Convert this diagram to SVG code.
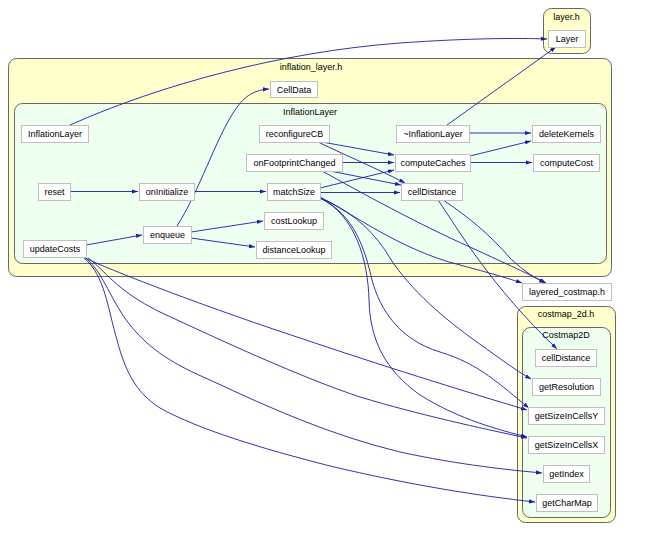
<svg xmlns="http://www.w3.org/2000/svg" width="650" height="557" viewBox="0 0 650 557">
<defs>
<marker id="arr" viewBox="0 0 10 10" refX="10" refY="5" markerWidth="6" markerHeight="6" markerUnits="userSpaceOnUse" orient="auto">
<path d="M0,1.5 L10,5 L0,8.5 z" fill="#1c1ca8"/>
</marker>
<style>
.file{fill:#ffffcc;stroke:#666666;stroke-width:1}
.cls{fill:#efffef;stroke:#666666;stroke-width:1}
.node rect{fill:#ffffff;stroke:#bfbfbf;stroke-width:1}
text{font-family:"Liberation Sans",Arial,sans-serif;font-size:9px;fill:#000000;text-anchor:middle}
.edges path{fill:none;stroke:#1c1ca8;stroke-width:0.9;marker-end:url(#arr)}
</style>
</defs>
<rect width="650" height="557" fill="#ffffff"/>

<g id="clusters">
<g id="cluster-layer-h"><rect class="file" x="543.5" y="8.5" width="47" height="45" rx="8"/><text x="566.5" y="20">layer.h</text></g>
<g id="cluster-inflation-layer-h"><rect class="file" x="8.5" y="58.5" width="603" height="218" rx="8"/><text x="311" y="70">inflation_layer.h</text></g>
<g id="cluster-InflationLayer"><rect class="cls" x="14.5" y="103.5" width="592" height="160" rx="8"/><text x="310" y="115">InflationLayer</text></g>
<g id="cluster-costmap-2d-h"><rect class="file" x="517.5" y="306.5" width="98" height="216" rx="8"/><text x="566" y="317">costmap_2d.h</text></g>
<g id="cluster-Costmap2D"><rect class="cls" x="522.5" y="327.5" width="88" height="190" rx="8"/><text x="566" y="338">Costmap2D</text></g>
</g>

<g class="edges" id="connectors">
<path d="M70,125 C160,85 280,52 400,43 C470,38 520,38 547,39"/>
<path d="M447,125 L556,47"/>
<path d="M469,133 L531,133"/>
<path d="M470,156 L531,141"/>
<path d="M470,162.5 L532,162.5"/>
<path d="M322,142 L394,155"/>
<path d="M318,142 C345,155 380,170 405,183"/>
<path d="M342,162.5 L394,162.5"/>
<path d="M330,171 L401,185"/>
<path d="M322,171 C360,192 420,225 470,247 C500,261 525,272 546,283"/>
<path d="M70,191.5 L138,191.5"/>
<path d="M194,191.5 L266,191.5"/>
<path d="M320,188 L394,170"/>
<path d="M320,192.5 L400,192.5"/>
<path d="M320,197 C350,212 400,250 460,265 C490,273 510,279 522,283"/>
<path d="M320,198 C345,208 368,225 385,250 C405,285 440,315 470,337 C495,355 515,370 531,379"/>
<path d="M320,198 C355,215 365,250 372,280 C380,310 400,340 440,352 C480,364 500,385 529,408"/>
<path d="M320,198 C355,215 368,260 369,300 C370,340 385,370 420,395 C460,420 500,430 527,437"/>
<path d="M86,245 L142,235"/>
<path d="M177,226 C200,190 215,140 235,110 C245,95 255,90 269,89"/>
<path d="M191,232 L263,221"/>
<path d="M191,238 L255,247"/>
<path d="M83,257 C110,270 200,305 300,338 C380,365 460,390 527,410"/>
<path d="M88,258 C105,270 115,290 160,312 C220,340 300,377 360,397 C420,415 480,428 527,438"/>
<path d="M86,258 C105,275 110,300 130,325 C150,350 175,365 210,380 C270,408 330,435 400,452 C460,465 510,470 542,473"/>
<path d="M84,258 C105,275 108,310 117,340 C125,370 135,392 160,408 C200,430 260,448 330,466 C410,485 480,496 535,502"/>
<path d="M438,200 C460,232 490,285 557,349"/>
<path d="M443,200 C470,218 490,235 510,258 C525,272 535,278 545,283"/>
</g>

<g id="nodes">
<g class="node" id="n-Layer"><rect x="548.5" y="30.5" width="37" height="17"/><text x="567" y="42">Layer</text></g>
<g class="node" id="n-CellData"><rect x="270.5" y="81.5" width="47" height="16"/><text x="294" y="92.5">CellData</text></g>
<g class="node" id="n-InflationLayer"><rect x="21.5" y="125.5" width="67" height="17"/><text x="55" y="137">InflationLayer</text></g>
<g class="node" id="n-reconfigureCB"><rect x="259.5" y="125.5" width="70" height="17"/><text x="294.5" y="137">reconfigureCB</text></g>
<g class="node" id="n-dtor"><rect x="396.5" y="125.5" width="73" height="17"/><text x="433" y="137">~InflationLayer</text></g>
<g class="node" id="n-deleteKernels"><rect x="532.5" y="125.5" width="68" height="17"/><text x="566.5" y="137">deleteKernels</text></g>
<g class="node" id="n-onFootprintChanged"><rect x="246.5" y="154.5" width="96" height="17"/><text x="294.5" y="166">onFootprintChanged</text></g>
<g class="node" id="n-computeCaches"><rect x="395.5" y="154.5" width="75" height="17"/><text x="433" y="166">computeCaches</text></g>
<g class="node" id="n-computeCost"><rect x="533.5" y="154.5" width="66" height="17"/><text x="566.5" y="166">computeCost</text></g>
<g class="node" id="n-reset"><rect x="38.5" y="183.5" width="32" height="17"/><text x="54.5" y="195">reset</text></g>
<g class="node" id="n-onInitialize"><rect x="139.5" y="183.5" width="55" height="17"/><text x="167" y="195">onInitialize</text></g>
<g class="node" id="n-matchSize"><rect x="267.5" y="183.5" width="53" height="17"/><text x="294" y="195">matchSize</text></g>
<g class="node" id="n-cellDistance-il"><rect x="401.5" y="183.5" width="61" height="17"/><text x="432" y="195">cellDistance</text></g>
<g class="node" id="n-costLookup"><rect x="264.5" y="212.5" width="59" height="17"/><text x="294" y="224">costLookup</text></g>
<g class="node" id="n-enqueue"><rect x="143.5" y="226.5" width="48" height="17"/><text x="167.5" y="238">enqueue</text></g>
<g class="node" id="n-distanceLookup"><rect x="256.5" y="241.5" width="75" height="17"/><text x="294" y="253">distanceLookup</text></g>
<g class="node" id="n-updateCosts"><rect x="23.5" y="240.5" width="63" height="17"/><text x="55" y="252">updateCosts</text></g>
<g class="node" id="n-layered-costmap-h"><rect x="522.5" y="283.5" width="89" height="17"/><text x="567" y="295">layered_costmap.h</text></g>
<g class="node" id="n-cellDistance-cm"><rect x="535.5" y="349.5" width="61" height="17"/><text x="566" y="361">cellDistance</text></g>
<g class="node" id="n-getResolution"><rect x="532.5" y="378.5" width="68" height="17"/><text x="566.5" y="390">getResolution</text></g>
<g class="node" id="n-getSizeInCellsY"><rect x="528.5" y="407.5" width="76" height="17"/><text x="566.5" y="419">getSizeInCellsY</text></g>
<g class="node" id="n-getSizeInCellsX"><rect x="528.5" y="436.5" width="76" height="17"/><text x="566.5" y="448">getSizeInCellsX</text></g>
<g class="node" id="n-getIndex"><rect x="543.5" y="465.5" width="46" height="17"/><text x="566.5" y="477">getIndex</text></g>
<g class="node" id="n-getCharMap"><rect x="536.5" y="494.5" width="61" height="17"/><text x="567" y="506">getCharMap</text></g>
</g>
</svg>
